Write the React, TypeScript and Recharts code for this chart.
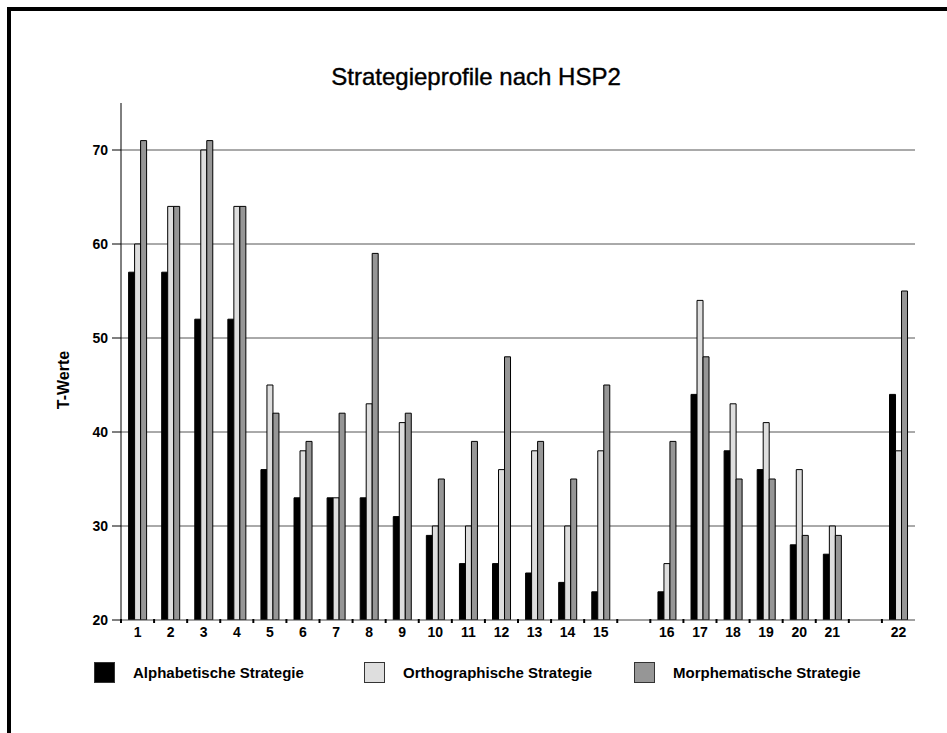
import React from 'react';
import { BarChart, Bar, XAxis, YAxis, CartesianGrid } from 'recharts';

const categories = ['1', '2', '3', '4', '5', '6', '7', '8', '9', '10', '11', '12', '13', '14', '15', '', '16', '17', '18', '19', '20', '21', '', '22'];
const alphabetisch = [57, 57, 52, 52, 36, 33, 33, 33, 31, 29, 26, 26, 25, 24, 23, null, 23, 44, 38, 36, 28, 27, null, 44];
const orthographisch = [60, 64, 70, 64, 45, 38, 33, 43, 41, 30, 30, 36, 38, 30, 38, null, 26, 54, 43, 41, 36, 30, null, 38];
const morphematisch = [71, 64, 71, 64, 42, 39, 42, 59, 42, 35, 39, 48, 39, 35, 45, null, 39, 48, 35, 35, 29, 29, null, 55];
const yTicks = [20, 30, 40, 50, 60, 70];
const gridValues = [30, 40, 50, 60, 70];

const series = [
  { key: 'alpha', name: 'Alphabetische Strategie', color: '#000000' },
  { key: 'ortho', name: 'Orthographische Strategie', color: '#dedede' },
  { key: 'morph', name: 'Morphematische Strategie', color: '#969696' },
];

const data = categories.map((name, i) => ({
  name,
  alpha: alphabetisch[i],
  ortho: orthographisch[i],
  morph: morphematisch[i],
}));

const FONT = '"Liberation Sans", Arial, sans-serif';
const BAND = 794 / categories.length;

// label plus a small mark on the left boundary of each category
const XTick = (props: any) => {
  const { x, y, payload } = props;
  return (
    <g>
      <line x1={x - BAND / 2} x2={x - BAND / 2} y1={y - 9} y2={y - 5} stroke="#000" strokeWidth={2} />
      <text x={x} y={y + 9} textAnchor="middle" fontFamily={FONT} fontWeight="bold" fontSize={14} fill="#000">
        {payload.value}
      </text>
    </g>
  );
};

const App: React.FC = () => {
  return (
    <div style={{ position: 'fixed', left: 0, top: 0, width: 947, height: 733, overflow: 'hidden', background: '#fff', fontFamily: FONT }}>
      {/* frame */}
      <div style={{ position: 'absolute', left: 7, top: 7, width: 960, height: 760, borderTop: '4px solid #000', borderLeft: '4px solid #000' }} />

      <div style={{ position: 'absolute', left: 0, top: 63, width: 952, textAlign: 'center', fontSize: 24, color: '#000', WebkitTextStroke: '0.4px #000' }}>
        Strategieprofile nach HSP2
      </div>

      <div style={{ position: 'absolute', left: 64, top: 380, transform: 'translate(-50%, -50%) rotate(-90deg)', fontSize: 16, fontWeight: 'bold', whiteSpace: 'nowrap' }}>
        T-Werte
      </div>

      <div style={{ position: 'absolute', left: 0, top: 0 }}>
        <BarChart width={947} height={733} data={data} margin={{ top: 103, right: 32, bottom: 83, left: 0 }} barCategoryGap="23%" barGap={0}>
          <CartesianGrid horizontal vertical={false} horizontalValues={gridValues} stroke="#555" strokeWidth={1} />
          <XAxis dataKey="name" height={30} tickLine={false} axisLine={{ stroke: '#444' }} tick={<XTick />} interval={0} />
          <YAxis
            width={121}
            domain={[20, 75]}
            ticks={yTicks}
            tickSize={9}
            tickMargin={4}
            axisLine={{ stroke: '#000' }}
            tickLine={{ stroke: '#000' }}
            tick={{ fontFamily: FONT, fontWeight: 'bold', fontSize: 14, fill: '#000' }}
            allowDataOverflow
          />
          {series.map((s) => (
            <Bar key={s.key} dataKey={s.key} name={s.name} fill={s.color} stroke="#000" strokeWidth={1} isAnimationActive={false} />
          ))}
        </BarChart>
      </div>

      {/* legend */}
      <div style={{ position: 'absolute', left: 94, top: 662, display: 'flex' }}>
        {series.map((s) => (
          <div key={s.key} style={{ width: 270, display: 'flex', alignItems: 'center' }}>
            <span style={{ display: 'inline-block', width: 19, height: 19, background: s.color, border: '1px solid #333', marginRight: 18 }} />
            <span style={{ fontSize: 15, fontWeight: 'bold' }}>{s.name}</span>
          </div>
        ))}
      </div>
    </div>
  );
};

export default App;
